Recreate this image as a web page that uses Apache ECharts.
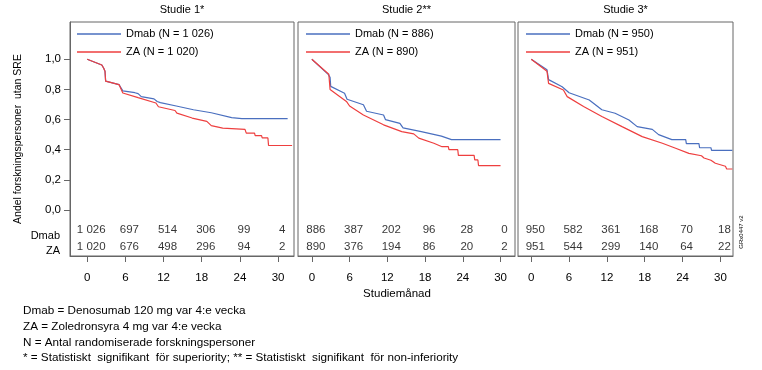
<!DOCTYPE html>
<html>
<head>
<meta charset="utf-8">
<script src="https://cdn.jsdelivr.net/npm/echarts@6/dist/echarts.min.js"></script>
<style>
html,body{margin:0;padding:0;background:#fff;}
#c{width:762px;height:370px;}
</style>
</head>
<body>
<div id="c"></div>
<script>
// ---- data ----
const panelTitles = ['Studie 1*', 'Studie 2**', 'Studie 3*'];
const riskMonths = [0, 6, 12, 18, 24, 30];
const yTicks = [0, 0.2, 0.4, 0.6, 0.8, 1.0];
const nDmab = [1026, 886, 950];
const nZA = [1020, 890, 951];

const risk1Dmab = [1026, 697, 514, 306, 99, 4];
const risk1ZA   = [1020, 676, 498, 296, 94, 2];
const risk2Dmab = [886, 387, 202, 96, 28, 0];
const risk2ZA   = [890, 376, 194, 86, 20, 2];
const risk3Dmab = [950, 582, 361, 168, 70, 18];
const risk3ZA   = [951, 544, 299, 140, 64, 22];

// traced curve vertices: [month, proportion without SRE]
const km1Dmab = [[0,1.0],[2.3,0.962],[2.6,0.94],[2.8,0.92],[2.9,0.855],[3.0,0.852],[5.0,0.832],[5.3,0.82],[5.6,0.79],[7.5,0.778],[8.0,0.772],[8.5,0.752],[10.5,0.737],[11.0,0.72],[11.5,0.712],[14.0,0.69],[16.7,0.665],[19.5,0.645],[22.7,0.613],[24.3,0.606],[31.5,0.606]];
const km1ZA = [[0,1.0],[2.3,0.962],[2.6,0.94],[2.8,0.92],[2.9,0.855],[3.0,0.852],[5.0,0.832],[5.3,0.82],[5.6,0.776],[8.0,0.745],[8.3,0.735],[10.8,0.71],[11.2,0.685],[13.8,0.66],[14.1,0.643],[16.5,0.61],[18.8,0.588],[19.5,0.56],[21.3,0.543],[24.8,0.535],[25.0,0.51],[26.3,0.51],[26.4,0.493],[27.4,0.493],[27.5,0.478],[28.4,0.478],[28.5,0.428],[32.2,0.428]];
const km2Dmab = [[0,1.0],[2.6,0.9],[2.9,0.88],[3.0,0.82],[5.2,0.775],[5.6,0.735],[8.2,0.698],[8.7,0.655],[11.4,0.63],[11.7,0.6],[14.0,0.575],[14.5,0.545],[17.4,0.52],[20.6,0.49],[22.2,0.467],[30.0,0.467]];
const km2ZA = [[0,1.0],[2.7,0.9],[2.9,0.8],[5.5,0.72],[6.0,0.69],[8.2,0.63],[11.4,0.565],[14.3,0.52],[16.2,0.505],[17.0,0.477],[19.4,0.443],[20.7,0.42],[21.7,0.42],[21.8,0.4],[23.2,0.4],[23.3,0.362],[25.8,0.362],[25.9,0.332],[26.4,0.332],[26.5,0.295],[30.0,0.295]];
const km3Dmab = [[0,1.0],[2.5,0.93],[2.75,0.865],[4.9,0.818],[6.0,0.778],[9.2,0.73],[11.2,0.665],[13.3,0.642],[15.5,0.597],[16.8,0.553],[19.2,0.535],[20.2,0.5],[22.3,0.467],[24.5,0.467],[24.6,0.44],[26.6,0.44],[26.7,0.413],[28.5,0.413],[28.6,0.396],[31.9,0.396]];
const km3ZA = [[0,1.0],[2.5,0.92],[2.75,0.84],[5.1,0.796],[5.7,0.752],[8.3,0.686],[11.2,0.62],[14.4,0.553],[17.6,0.487],[20.8,0.443],[22.9,0.41],[25.0,0.376],[27.0,0.36],[27.4,0.345],[28.5,0.33],[29.2,0.31],[30.8,0.29],[31.0,0.272],[31.9,0.272]];

const footnotes = [
  'Dmab = Denosumab 120 mg var 4:e vecka',
  'ZA = Zoledronsyra 4 mg var 4:e vecka',
  'N = Antal randomiserade forskningspersoner',
  '* = Statistiskt  signifikant  för superiority; ** = Statistiskt  signifikant  för non-inferiority'
];
const yAxisTitle = 'Andel forskningspersoner  utan SRE';
const xAxisTitle = 'Studiemånad';
const docCode = 'GRx0447 v2';

// ---- layout / style ----
const FONT = '"Liberation Sans", Arial, sans-serif';
const BLUE = '#4a6fbf';
const RED = '#ee3f3f';
const BORDER = '#666';
const grids = [
  {left: 70, top: 22, width: 224, height: 234},
  {left: 298, top: 22, width: 217, height: 234},
  {left: 518, top: 22, width: 215, height: 234}
];
const xRanges = [[-2.7, 32.5], [-2.2, 32.3], [-2.1, 32.0]];
const Y_MIN = -0.305, Y_MAX = 1.247;
const ROW1_Y = -0.133, ROW2_Y = -0.245;

const fmtN = n => String(n).replace(/\B(?=(\d{3})+(?!\d))/g, ' ');
const kmSets = [[km1Dmab, km1ZA], [km2Dmab, km2ZA], [km3Dmab, km3ZA]];
const riskSets = [[risk1Dmab, risk1ZA], [risk2Dmab, risk2ZA], [risk3Dmab, risk3ZA]];

const chart = echarts.init(document.getElementById('c'), null, {renderer: 'canvas'});

const xAxes = grids.map((g, i) => ({
  type: 'value', gridIndex: i, min: xRanges[i][0], max: xRanges[i][1],
  axisLine: {show: true, onZero: false, lineStyle: {color: BORDER}},
  axisTick: {show: true, customValues: riskMonths, length: 6, lineStyle: {color: BORDER}},
  axisLabel: {customValues: riskMonths, margin: 16, fontSize: 11.5, color: '#000', fontFamily: FONT},
  splitLine: {show: false}
}));
const yAxes = grids.map((g, i) => ({
  type: 'value', gridIndex: i, min: Y_MIN, max: Y_MAX,
  axisLine: {show: i === 0, onZero: false, lineStyle: {color: BORDER}},
  axisTick: {show: i === 0, customValues: yTicks, length: 6, lineStyle: {color: BORDER}},
  axisLabel: {show: i === 0, customValues: yTicks, margin: 9, fontSize: 11.5, color: '#000', fontFamily: FONT,
    formatter: v => v.toFixed(1).replace('.', ',')},
  splitLine: {show: false},
  name: i === 0 ? yAxisTitle : '',
  nameLocation: 'middle', nameGap: 46,
  nameTextStyle: {fontSize: 10.5, color: '#000', fontFamily: FONT}
}));

const series = [];
const legends = [];
const legendLeft = [72, 301, 521];
grids.forEach((g, i) => {
  const nameD = 'Dmab (N = ' + fmtN(nDmab[i]) + ')';
  const nameZ = 'ZA (N = ' + fmtN(nZA[i]) + ')';
  series.push({
    name: nameD, type: 'line', xAxisIndex: i, yAxisIndex: i,
    symbol: 'none', data: kmSets[i][0], lineStyle: {color: BLUE, width: 1.2}, itemStyle: {color: BLUE},
    animation: false, z: 3
  });
  series.push({
    name: nameZ, type: 'line', xAxisIndex: i, yAxisIndex: i,
    symbol: 'none', data: kmSets[i][1], lineStyle: {color: RED, width: 1.2}, itemStyle: {color: RED},
    animation: false, z: 4
  });
  [[riskSets[i][0], ROW1_Y], [riskSets[i][1], ROW2_Y]].forEach(([arr, yv]) => {
    series.push({
      type: 'scatter', xAxisIndex: i, yAxisIndex: i, symbolSize: 0, silent: true, animation: false,
      data: riskMonths.map((m, k) => [m, yv, arr[k]]),
      label: {show: true, position: 'inside', offset: [4, 0], fontSize: 11.5, color: '#000', fontFamily: FONT,
        formatter: p => fmtN(p.value[2])}
    });
  });
  legends.push({
    left: legendLeft[i], top: 22, orient: 'vertical', itemGap: 4, itemWidth: 44, itemHeight: 1.5,
    icon: 'rect', data: [nameD, nameZ], selectedMode: false,
    textStyle: {fontSize: 11, color: '#000', fontFamily: FONT, lineHeight: 14}
  });
});

const graphics = [];
grids.forEach((g, i) => {
  graphics.push({type: 'text', x: g.left + g.width / 2, y: 10,
    style: {text: panelTitles[i], font: '11px ' + FONT, fill: '#000', align: 'center', verticalAlign: 'middle'}});
});
graphics.push({type: 'text', x: 60, y: 236, style: {text: 'Dmab', font: '11px ' + FONT, fill: '#000', align: 'right', verticalAlign: 'middle'}});
graphics.push({type: 'text', x: 60, y: 251, style: {text: 'ZA', font: '11px ' + FONT, fill: '#000', align: 'right', verticalAlign: 'middle'}});
graphics.push({type: 'text', x: 397, y: 294, style: {text: xAxisTitle, font: '11.5px ' + FONT, fill: '#000', align: 'center', verticalAlign: 'middle'}});
footnotes.forEach((t, k) => {
  graphics.push({type: 'text', x: 23, y: 311 + k * 15.7, style: {text: t, font: '11.7px ' + FONT, fill: '#000', align: 'left', verticalAlign: 'middle'}});
});
graphics.push({type: 'text', x: 741, y: 232, rotation: Math.PI / 2,
  style: {text: docCode, font: '6px ' + FONT, fill: '#000', align: 'center', verticalAlign: 'middle'}});

chart.setOption({
  animation: false,
  grid: grids.map(g => Object.assign({show: true, borderColor: BORDER, borderWidth: 1, backgroundColor: 'transparent'}, g)),
  xAxis: xAxes,
  yAxis: yAxes,
  legend: legends,
  series: series,
  graphic: graphics
});
</script>
</body>
</html>
